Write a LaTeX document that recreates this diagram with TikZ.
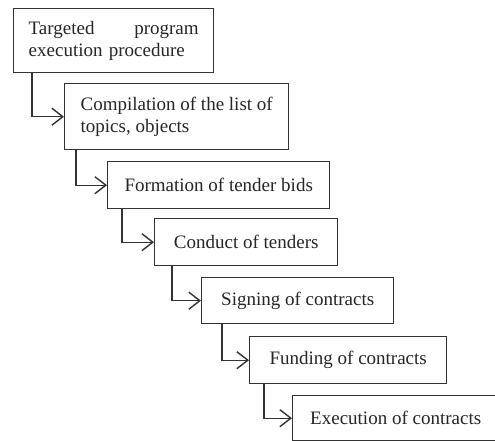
\documentclass[tikz,border=0pt]{standalone}
\usepackage{fontspec}
\setmainfont{Liberation Serif}
\usepackage{tikz}
\usetikzlibrary{positioning, arrows.meta}

\tikzset{
  stage/.style={draw=black!80, line width=1.4pt, fill=white, anchor=north west,
    inner xsep=15pt, inner ysep=4pt, align=center, text=black!85,
    font=\fontsize{19}{22.5}\selectfont},
  flow/.style={draw=black!80, line width=1.4pt,
    -{Straight Barb[length=11pt,width=17pt]}}
}

\begin{document}
\begin{tikzpicture}[x=1pt, y=-1pt]
\useasboundingbox (0,0) rectangle (495,441);
\clip (0,0) rectangle (495,441);

% stages
\node[stage, text width=170pt, align=left, minimum height=64pt] (proc) at (13,8) {Targeted\hfill program\\execution procedure};
\node[stage, align=left, minimum width=224pt, minimum height=66pt] (list) at (64,83) {Compilation of the list of\\topics, objects};
\node[stage, minimum width=222pt, minimum height=47pt] (bids) at (107,161) {Formation of tender bids};
\node[stage, minimum width=183pt, minimum height=47pt] (tenders) at (154,218) {Conduct of tenders};
\node[stage, minimum width=192pt, minimum height=46pt] (sign) at (201,277) {Signing of contracts};
\node[stage, minimum width=197pt, minimum height=47pt] (fund) at (249,336) {Funding of contracts};
\node[stage, minimum width=206pt, minimum height=45pt] (exec) at (292,395) {Execution of contracts};

% connectors
\draw[flow] ([xshift=19pt]proc.south west) |- (list.west);
\draw[flow] ([xshift=12pt]list.south west) |- (bids.west);
\draw[flow] ([xshift=15pt]bids.south west) |- (tenders.west);
\draw[flow] ([xshift=18pt]tenders.south west) |- (sign.west);
\draw[flow] ([xshift=21pt]sign.south west) |- (fund.west);
\draw[flow] ([xshift=15pt]fund.south west) |- (exec.west);

\end{tikzpicture}
\end{document}
